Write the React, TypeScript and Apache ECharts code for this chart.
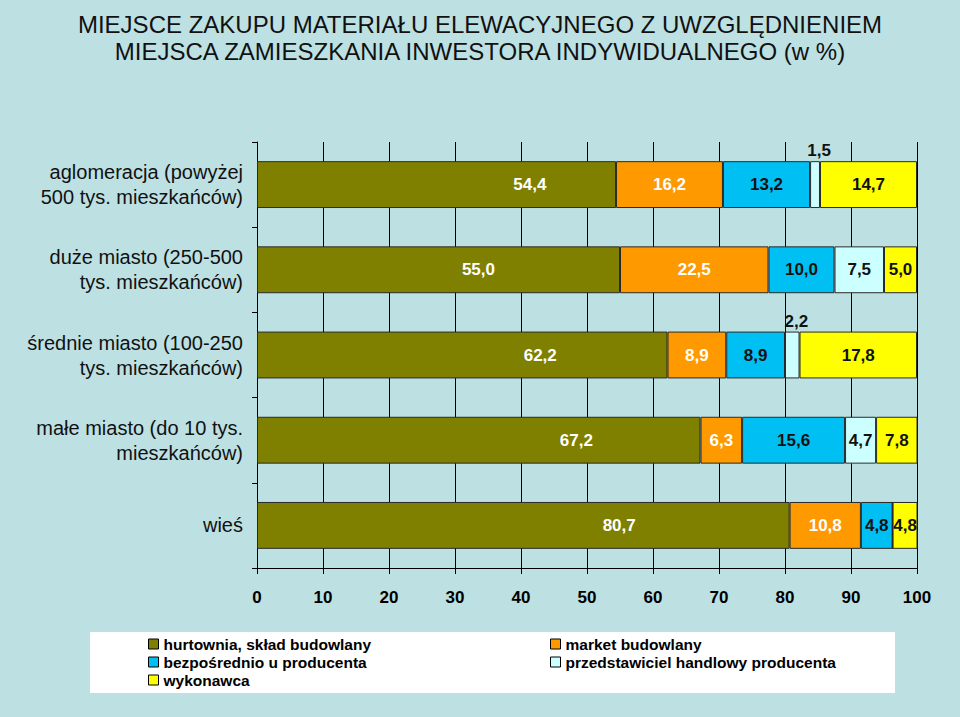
import React, { useEffect, useRef } from "react";
import * as echarts from "echarts";

const titleLines = [
  "MIEJSCE ZAKUPU MATERIAŁU ELEWACYJNEGO Z UWZGLĘDNIENIEM",
  "MIEJSCA ZAMIESZKANIA INWESTORA INDYWIDUALNEGO (w %)",
];

const categories = [
  "aglomeracja (powyżej\n500 tys. mieszkańców)",
  "duże miasto (250-500\ntys. mieszkańców)",
  "średnie miasto (100-250\ntys. mieszkańców)",
  "małe miasto (do 10 tys.\nmieszkańców)",
  "wieś",
];

const seriesNames = [
  "hurtownia, skład budowlany",
  "market budowlany",
  "bezpośrednio u producenta",
  "przedstawiciel handlowy producenta",
  "wykonawca",
];

const hurtownia = [54.4, 55.0, 62.2, 67.2, 80.7];
const market = [16.2, 22.5, 8.9, 6.3, 10.8];
const bezposrednio = [13.2, 10.0, 8.9, 15.6, 4.8];
const przedstawiciel = [1.5, 7.5, 2.2, 4.7, 0];
const wykonawca = [14.7, 5.0, 17.8, 7.8, 4.8];

const xTicks = [0, 10, 20, 30, 40, 50, 60, 70, 80, 90, 100];

// styling: where the value label sits inside the first (olive) bar, as % of its width
const oliveLabelAt = ["76%", "61%", "69%", "72%", "68%"];

const seriesColors = ["#808000", "#FF9900", "#00BFF3", "#CCFFFF", "#FFFF00"];
const labelColors = ["#ffffff", "#ffffff", "#111111", "#111111", "#111111"];

const FONT = "'Liberation Sans', Arial, Helvetica, sans-serif";

const fmt = (v: number) => v.toFixed(1).replace(".", ",");

export default function App() {
  const ref = useRef<HTMLDivElement>(null);

  useEffect(() => {
    if (!ref.current) return;
    const chart = echarts.init(ref.current, undefined, { renderer: "svg" });
    const allData = [hurtownia, market, bezposrednio, przedstawiciel, wykonawca];

    const series = allData.map((vals, si) => ({
      name: seriesNames[si],
      type: "bar",
      stack: "total",
      barWidth: "55%",
      clip: true,
      itemStyle: {
        color: seriesColors[si],
        borderColor: "#2a2a2a",
        borderWidth: 1,
      },
      data: vals.map((v, ci) => {
        const item: any = { value: v };
        if (v === 0) {
          item.label = { show: false };
        } else if (si === 0) {
          item.label = { position: [oliveLabelAt[ci], "50%"], align: "center", verticalAlign: "middle" };
        } else if (v < 3) {
          item.label = { position: "top", distance: 2, color: "#111111", offset: [4, 0] };
        }
        return item;
      }),
      label: {
        show: true,
        position: "inside",
        color: labelColors[si],
        fontFamily: FONT,
        fontWeight: "bold",
        fontSize: 17,
        formatter: (p: any) => fmt(p.value),
      },
    }));

    chart.setOption({
      animation: false,
      backgroundColor: "#BDE0E3",
      title: {
        text: titleLines.join("\n"),
        left: "center",
        top: 6,
        textStyle: {
          fontFamily: FONT,
          fontWeight: "normal",
          fontSize: 24,
          lineHeight: 27,
          color: "#111111",
          align: "center",
        },
      },
      graphic: [
        {
          type: "rect",
          z: 0,
          shape: { x: 90, y: 632, width: 805, height: 61 },
          style: { fill: "#ffffff" },
        },
      ],
      legend: [
        {
          orient: "vertical",
          left: 143,
          top: 631,
          padding: 5,
          itemGap: 2,
          itemWidth: 10,
          itemHeight: 10,
          icon: "rect",
          itemStyle: { borderColor: "#000", borderWidth: 1 },
          data: [seriesNames[0], seriesNames[2], seriesNames[4]],
          textStyle: { fontFamily: FONT, fontWeight: "bold", fontSize: 15.5, color: "#000" },
        },
        {
          orient: "vertical",
          left: 545,
          top: 631,
          padding: 5,
          itemGap: 2,
          itemWidth: 10,
          itemHeight: 10,
          icon: "rect",
          itemStyle: { borderColor: "#000", borderWidth: 1 },
          data: [seriesNames[1], seriesNames[3]],
          textStyle: { fontFamily: FONT, fontWeight: "bold", fontSize: 15.5, color: "#000" },
        },
      ],
      grid: { left: 257, right: 43, top: 142, bottom: 149, containLabel: false },
      xAxis: {
        type: "value",
        min: xTicks[0],
        max: xTicks[xTicks.length - 1],
        interval: 10,
        axisLine: { show: true, lineStyle: { color: "#000", width: 1 } },
        axisTick: { show: true, length: 6, inside: false, lineStyle: { color: "#000" } },
        splitLine: { show: true, lineStyle: { color: "#000", width: 1 } },
        axisLabel: {
          margin: 21,
          fontFamily: FONT,
          fontWeight: "bold",
          fontSize: 17,
          color: "#000",
        },
      },
      yAxis: {
        type: "category",
        inverse: true,
        data: categories,
        axisLine: { show: true, lineStyle: { color: "#000", width: 1 } },
        axisTick: { show: true, length: 5, alignWithLabel: false, lineStyle: { color: "#000" } },
        splitLine: { show: false },
        axisLabel: {
          margin: 14,
          fontFamily: FONT,
          fontSize: 20,
          lineHeight: 25,
          color: "#111111",
          align: "right",
        },
      },
      series,
    });

    return () => chart.dispose();
  }, []);

  return (
    <div
      ref={ref}
      style={{ position: "fixed", left: 0, top: 0, width: 960, height: 717 }}
    />
  );
}
